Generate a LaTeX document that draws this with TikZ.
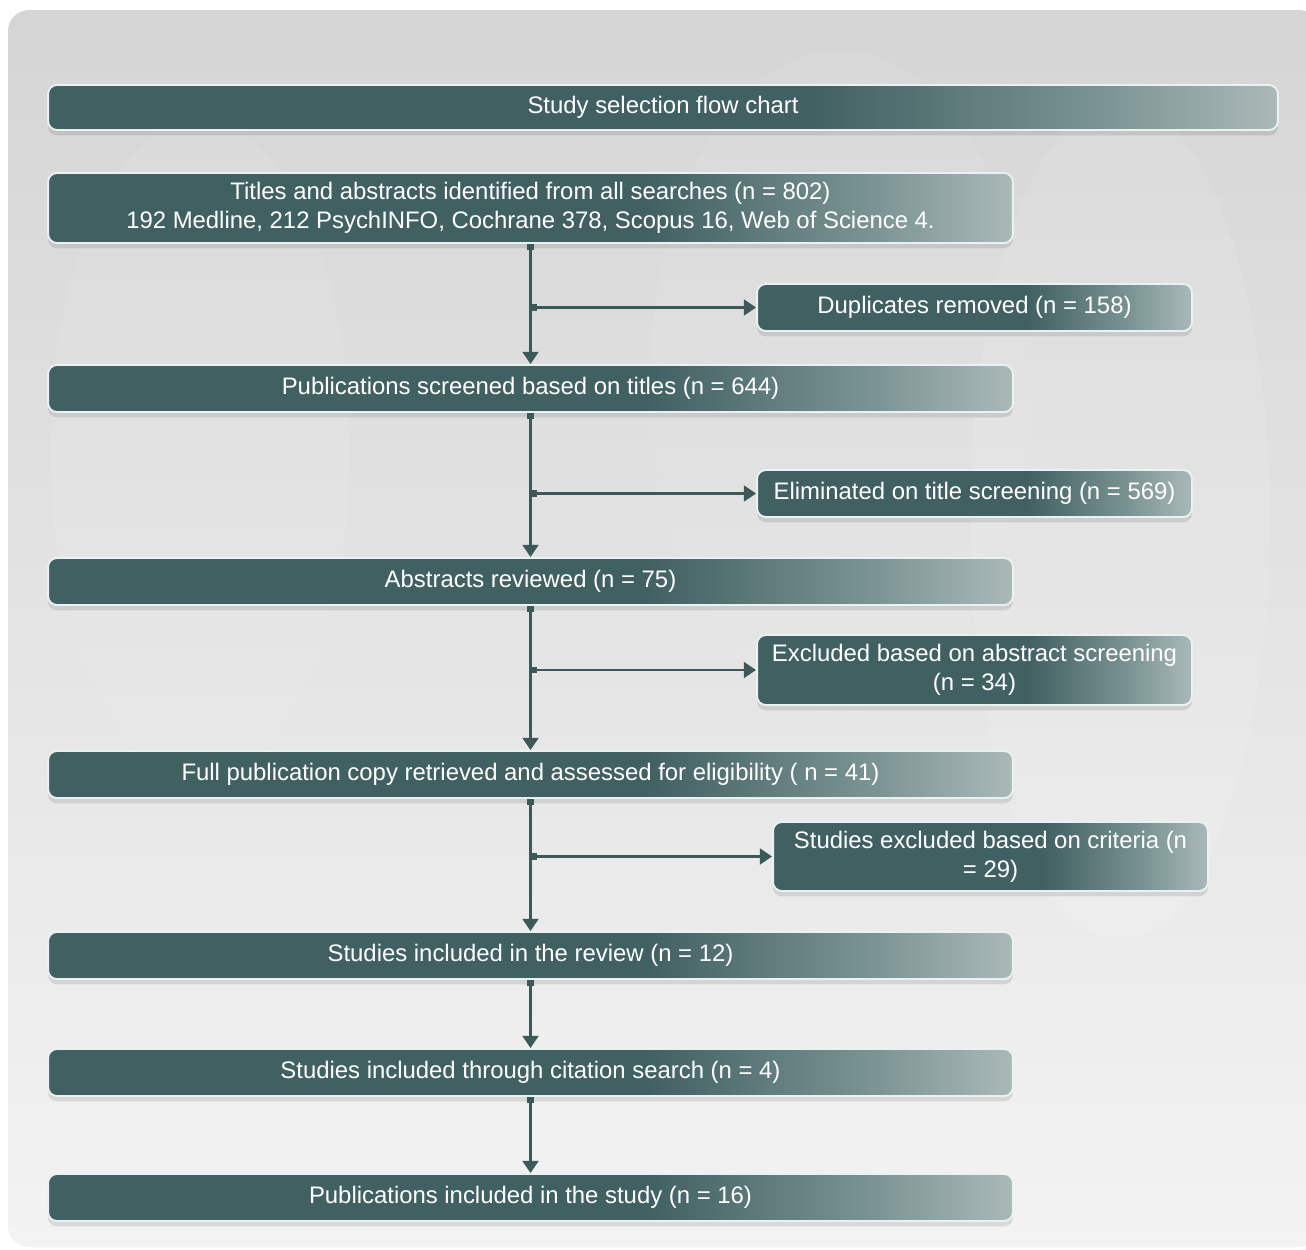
\documentclass[tikz,border=0pt]{standalone}
\usepackage{fontspec}
\setmainfont{Liberation Sans}
\usetikzlibrary{arrows.meta,shadows,calc}
\definecolor{boxdark}{HTML}{416062}
\definecolor{boxmid}{HTML}{7C9594}
\definecolor{boxlight}{HTML}{AAB9B8}
\definecolor{linecol}{HTML}{3C5859}
\definecolor{bordercol}{HTML}{E9F1F1}
\definecolor{panTop}{HTML}{D5D5D5}
\definecolor{panBot}{HTML}{F3F3F3}
\pgfdeclarehorizontalshading{boxshade}{100bp}{color(0bp)=(boxdark); color(25bp)=(boxdark); color(56bp)=(boxdark); color(68bp)=(boxmid); color(75bp)=(boxlight); color(100bp)=(boxlight)}
\begin{document}
\begin{tikzpicture}[x=0.02cm,y=-0.02cm,
  flowbox/.style={rectangle, rounded corners=5pt, shading=boxshade, draw=bordercol, line width=1.1pt,
    text=white, align=center, inner sep=0pt,
    font=\fontsize{13.6}{16.4}\selectfont,
    drop shadow={shadow xshift=0pt, shadow yshift=-3pt, opacity=0.10, fill=black}},
  wide/.style={minimum width=19.3cm, minimum height=0.94cm},
  side/.style={minimum width=8.7cm, minimum height=0.94cm},
  conn/.style={draw=linecol, line width=1.6pt, {Square[length=3.5pt,width=3.5pt]}-{Triangle[width=9pt,length=7pt]}},
]
\useasboundingbox (0,0) rectangle (1306,1249);
\fill[white] (0,0) rectangle (1306,1249);
\shade[top color=panTop, bottom color=panBot, rounded corners=12pt] (8,10) rectangle (1320,1247);
% faint background ellipses
\fill[white, opacity=0.10] (1120,520) ellipse (150 and 420);
\fill[white, opacity=0.07] (200,450) ellipse (150 and 330);
\fill[white, opacity=0.06] (840,380) ellipse (190 and 330);

\node[flowbox, minimum width=24.6cm, minimum height=0.9cm] (title) at (663,107.5) {Study selection flow chart};
\node[flowbox, wide, minimum height=1.4cm] (n1) at (530.5,208) {Titles and abstracts identified from all searches (n = 802)\\192 Medline, 212 PsychINFO, Cochrane 378, Scopus 16, Web of Science 4.};
\node[flowbox, side] (dup) at (974.5,307.5) {Duplicates removed (n = 158)};
\node[flowbox, wide] (n2) at (530.5,388.5) {Publications screened based on titles (n = 644)};
\node[flowbox, side] (elim) at (974.5,493.5) {Eliminated on title screening (n = 569)};
\node[flowbox, wide] (n3) at (530.5,581.5) {Abstracts reviewed (n = 75)};
\node[flowbox, side, minimum height=1.4cm] (excl) at (974.5,670) {Excluded based on abstract screening\\(n = 34)};
\node[flowbox, wide] (n4) at (530.5,774.5) {Full publication copy retrieved and assessed for eligibility ( n = 41)};
\node[flowbox, side, minimum height=1.38cm] (crit) at (990.5,856.5) {Studies excluded based on criteria (n\\= 29)};
\node[flowbox, wide] (n5) at (530.5,955.5) {Studies included in the review (n = 12)};
\node[flowbox, wide] (n6) at (530.5,1072.5) {Studies included through citation search (n = 4)};
\node[flowbox, wide] (n7) at (530.5,1197.5) {Publications included in the study (n = 16)};

\coordinate (b1) at (n1.south |- dup.west);
\coordinate (b2) at (n2.south |- elim.west);
\coordinate (b3) at (n3.south |- excl.west);
\coordinate (b4) at (n4.south |- crit.west);

\draw[conn] (n1.south) -- (n2.north);
\draw[conn] (n2.south) -- (n3.north);
\draw[conn] (n3.south) -- (n4.north);
\draw[conn] (n4.south) -- (n5.north);
\draw[conn] (n5.south) -- (n6.north);
\draw[conn] (n6.south) -- (n7.north);
\draw[conn] (b1) -- (dup.west);
\draw[conn] (b2) -- (elim.west);
\draw[conn] (b3) -- (excl.west);
\draw[conn] (b4) -- (crit.west);
\end{tikzpicture}
\end{document}
